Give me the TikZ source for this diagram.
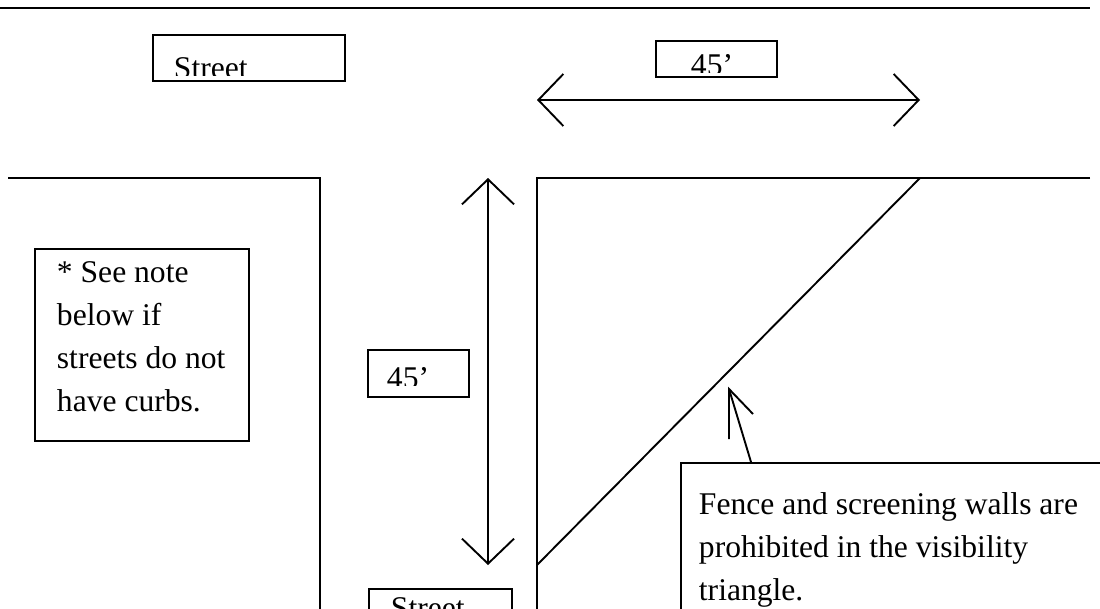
\documentclass[tikz,border=0pt]{standalone}
\usepackage{fontspec}
\setmainfont{Liberation Serif}
\usetikzlibrary{arrows.meta}
\begin{document}
\begin{tikzpicture}[x=1pt,y=-1pt,line width=1.9pt,
  box/.style={draw,rectangle,inner sep=0pt,anchor=north west},
  txt/.style={inner sep=0pt,anchor=base west,font=\fontsize{31.6}{43}\selectfont,align=left},
  dimarrow/.style={{Straight Barb[length=25pt,width=52pt]}-{Straight Barb[length=25pt,width=52pt]}}]
\useasboundingbox (0,0) rectangle (1100,608);
% top street edge
\coordinate (tl) at (0,8); \coordinate (tr) at (1090,8);
\draw (tl) -- (tr);
% left block
\coordinate (la) at (8,178); \coordinate (lb) at (320,178); \coordinate (lc) at (320,612);
\draw (la) -- (lb) -- (lc);
% right block
\coordinate (ra) at (1090,178); \coordinate (rb) at (537,178); \coordinate (rc) at (537,612);
\draw (ra) -- (rb) -- (rc);
% visibility triangle
\coordinate (d1) at (537,565); \coordinate (d2) at (920,178);
\draw (d1) -- (d2);
% dimension arrows
\coordinate (h1) at (537,100); \coordinate (h2) at (920,100);
\draw[dimarrow] (h1) -- (h2);
\coordinate (v1) at (488,178); \coordinate (v2) at (488,565);
\draw[dimarrow] (v1) -- (v2);
% top street label
\node[box,minimum width=192pt,minimum height=46pt] (sb1) at (152,34) {};
\begin{scope}
  \clip (152,34) rectangle (344,75);
  \node[txt] (st1) at (173,78) {Street};
\end{scope}
% top 45 label
\node[box,minimum width=121pt,minimum height=36pt] (fb1) at (655,40) {};
\begin{scope}
  \clip (655,40) rectangle (776,72);
  \node[txt] (ft1) at (690,75) {45’};
\end{scope}
% middle 45 label
\node[box,minimum width=101pt,minimum height=47pt] (fb2) at (367,349) {};
\begin{scope}
  \clip (367,349) rectangle (468,385);
  \node[txt] (ft2) at (386,388) {45’};
\end{scope}
% note box
\node[box,minimum width=214pt,minimum height=192pt] (nb) at (34,248) {};
\node[txt] (nt) at (56,411) {* See note\\below if\\streets do not\\have curbs.};
% bottom street label
\node[box,minimum width=143pt,minimum height=40pt] (sb2) at (368,588) {};
\node[txt] (st2) at (390,618) {Street};
% fence box
\node[box,minimum width=440pt,minimum height=160pt] (fence) at (680,462) {};
\node[txt] (fencet) at (698,600) {Fence and screening walls are\\prohibited in the visibility\\triangle.};
% callout arrow
\coordinate (ctail) at (751,462); \coordinate (ctip) at (729,389);
\coordinate (ca1) at (729,439); \coordinate (ca2) at (753,414);
\draw (ctail) -- (ctip);
\draw (ca1) -- (ctip) -- (ca2);
\end{tikzpicture}
\end{document}
